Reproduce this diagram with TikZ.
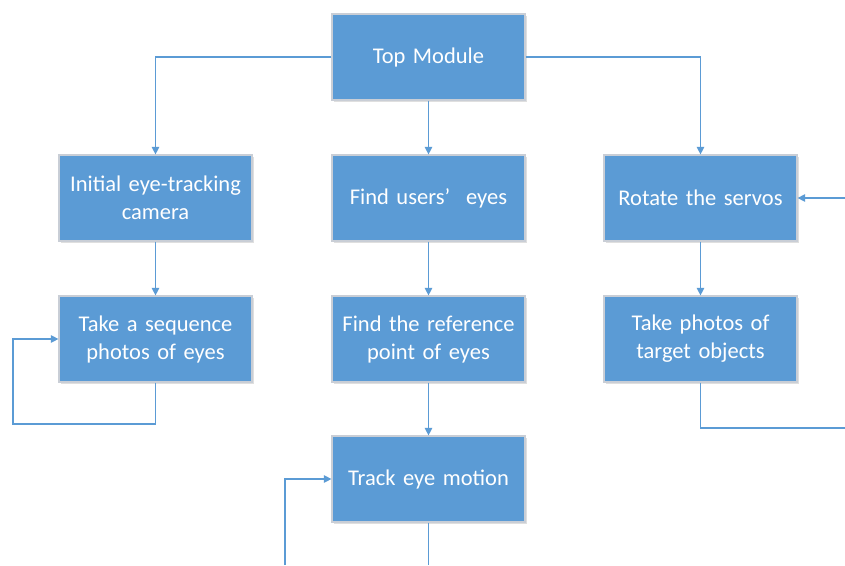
\documentclass[tikz,border=0pt]{standalone}
\usepackage{fontspec}
\setmainfont{Carlito}
\usetikzlibrary{arrows.meta,shadows}
\definecolor{boxblue}{HTML}{5B9BD5}
\definecolor{boxedge}{HTML}{C9CED6}
\definecolor{linkblue}{HTML}{5B9BD5}
\begin{document}
\begin{tikzpicture}[x=1pt,y=-1pt,
  stepbox/.style={rectangle, fill=boxblue, draw=boxedge, line width=1.2pt,
    minimum width=193pt, minimum height=86pt, inner sep=0pt,
    text=white, align=center, text width=185pt,
    font=\fontsize{22.5}{28}\selectfont,
    drop shadow={shadow xshift=1.5pt, shadow yshift=-1.5pt, opacity=0.25, fill=gray}},
  conn/.style={draw=linkblue, line width=1.2pt, -{Triangle[length=7.5pt,width=7.5pt]}},
  plain/.style={draw=linkblue, line width=1.2pt}]
\useasboundingbox (0,0) rectangle (845,565);
\fill[white] (0,0) rectangle (845,565);

\node[stepbox] (top) at (428.5,57) {Top Module};
\node[stepbox] (l1) at (155.5,198) {Initial eye-tracking\\camera};
\node[stepbox] (m1) at (428.5,198) {Find users’\hspace{16pt}eyes};
\node[stepbox] (r1) at (700.5,198) {Rotate the servos};
\node[stepbox] (l2) at (155.5,339) {Take a sequence\\photos of eyes};
\node[stepbox] (m2) at (428.5,339) {Find the reference\\point of eyes};
\node[stepbox] (r2) at (700.5,339) {Take photos of\\target objects};
\node[stepbox] (m3) at (428.5,479) {Track eye motion};

\coordinate (lA) at (13,424);
\coordinate (rA) at (845,428);
\coordinate (rB) at (845,198);
\coordinate (mA) at (285,565);
\coordinate (mB) at (428.5,565);

\draw[conn] (top.west) -| (l1.north);
\draw[conn] (top.east) -| (r1.north);
\draw[conn] (top.south) -- (m1.north);
\draw[conn] (l1.south) -- (l2.north);
\draw[conn] (m1.south) -- (m2.north);
\draw[conn] (m2.south) -- (m3.north);
\draw[conn] (r1.south) -- (r2.north);
\draw[conn] (l2.south) |- (lA) |- (l2.west);
\draw[plain] (r2.south) |- (rA);
\draw[conn] (rB) -- (r1.east);
\draw[conn] (mA) |- (m3.west);
\draw[plain] (m3.south) -- (mB);
\end{tikzpicture}
\end{document}
